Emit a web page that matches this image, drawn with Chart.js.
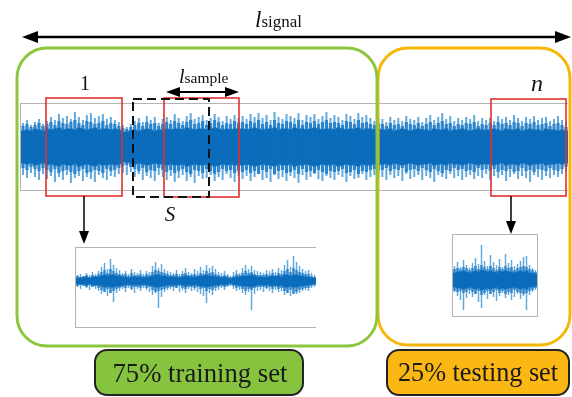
<!DOCTYPE html>
<html>
<head>
<meta charset="utf-8">
<script src="https://cdn.jsdelivr.net/npm/chart.js@4.4.1/dist/chart.umd.min.js"></script>
<style>
  html, body { margin: 0; padding: 0; background: #fff; }
  #stage { position: relative; width: 572px; height: 397px; overflow: hidden; background: #fff; }
  .panel { position: absolute; box-sizing: border-box; border-top: 1px solid #b4b4b4; border-bottom: 1px solid #b4b4b4; border-left: 1px solid #b4b4b4; }
  .panel canvas { display: block; }
  #ov { position: absolute; left: 0; top: 0; pointer-events: none; }
  .serif { font-family: "Liberation Serif", "Times New Roman", serif; }
</style>
</head>
<body>
<div id="stage">
  <div class="panel" style="left:20px; top:103px; width:548px; height:88px;">
    <canvas id="sigMain" width="547" height="86"></canvas>
  </div>
  <div class="panel" style="left:75px; top:247px; width:241px; height:81px;">
    <canvas id="sigTrain" width="240" height="79"></canvas>
  </div>
  <div class="panel" style="left:452px; top:234px; width:86px; height:83px; border-right:1px solid #b4b4b4;">
    <canvas id="sigTest" width="84" height="81"></canvas>
  </div>

  <svg id="ov" width="572" height="397" class="serif">
    <!-- l_signal -->
    <line x1="36" y1="37" x2="557" y2="37" stroke="#000" stroke-width="2.5"/>
    <polygon points="22,37 38,31 38,43" fill="#000"/>
    <polygon points="571,37 555,31 555,43" fill="#000"/>
    <text x="255" y="27" fill="#111"><tspan font-style="italic" font-size="23">l</tspan><tspan font-size="17">signal</tspan></text>

    <!-- train / test groups -->
    <rect x="378" y="48" width="192" height="297" rx="30" ry="30" fill="none" stroke="#f6b70a" stroke-width="3"/>
    <rect x="17" y="48" width="360" height="298" rx="30" ry="30" fill="none" stroke="#8cc63f" stroke-width="3"/>

    <!-- sample windows -->
    <rect x="46" y="98" width="76" height="98" fill="none" stroke="#e0302e" stroke-width="1.6"/>
    <rect x="164" y="98" width="75" height="99" fill="none" stroke="#e0302e" stroke-width="1.6"/>
    <rect x="491" y="99" width="75" height="97" fill="none" stroke="#e0302e" stroke-width="1.6"/>
    <rect x="133" y="99" width="76" height="98" fill="none" stroke="#111" stroke-width="2" stroke-dasharray="9 5"/>

    <text x="85" y="90" font-size="20" text-anchor="middle" fill="#111">1</text>
    <text x="537" y="91" font-size="24" font-style="italic" text-anchor="middle" fill="#111">n</text>

    <!-- l_sample -->
    <line x1="176" y1="92" x2="229" y2="92" stroke="#000" stroke-width="2"/>
    <polygon points="166,92 180,87 180,97" fill="#000"/>
    <polygon points="239,92 225,87 225,97" fill="#000"/>
    <text x="179" y="83" fill="#111"><tspan font-style="italic" font-size="20">l</tspan><tspan font-size="15.5">sample</tspan></text>
    <text x="170" y="221" font-size="21" font-style="italic" text-anchor="middle" fill="#111">S</text>

    <!-- zoom arrows -->
    <line x1="84" y1="196" x2="84" y2="233" stroke="#000" stroke-width="1.5"/>
    <polygon points="84,244 79,231 89,231" fill="#000"/>
    <line x1="511" y1="196" x2="511" y2="223" stroke="#000" stroke-width="1.5"/>
    <polygon points="511,234 506,221 516,221" fill="#000"/>

    <!-- set labels -->
    <rect x="95" y="350" width="208" height="45" rx="12" ry="12" fill="#86c440" stroke="#222" stroke-width="2"/>
    <text x="200" y="382" font-size="28" text-anchor="middle" fill="#1a1a1a" textLength="175" lengthAdjust="spacingAndGlyphs">75% training set</text>
    <rect x="387" y="350" width="182" height="45" rx="12" ry="12" fill="#fbb714" stroke="#222" stroke-width="2"/>
    <text x="478" y="381" font-size="28" text-anchor="middle" fill="#1a1a1a" textLength="160" lengthAdjust="spacingAndGlyphs">25% testing set</text>
  </svg>
</div>

<script>
// ── Señal completa (envolvente por tramo) ─────────────────────────────────────
var mainUp = [24,27,22,25,28,23,
  26,30,27,33,29,31,28,35,30,27,32,34,29,31,33,28,30,27,25,
  22,20,23,
  26,29,25,31,27,30,24,28,
  30,27,33,29,26,31,34,28,30,32,27,29,33,30,26,31,28,32,29,
  31,28,33,30,34,29,32,27,35,30,28,33,31,29,34,27,32,30,33,28,31,35,29,32,30,27,33,31,28,34,30,32,29,26,30,
  28,25,30,27,29,26,31,28,27,30,25,29,32,27,30,34,28,31,26,29,27,30,28,32,26,29,27,
  29,26,31,28,30,27,32,29,26,30,28,31,27,29,30,26,28,31,27,25];
var mainDown = [28,31,26,30,33,27,
  32,29,35,30,33,28,36,31,29,34,30,32,35,28,31,33,29,30,27,
  26,28,25,
  30,27,33,29,31,34,28,30,
  33,29,35,31,28,34,30,36,29,32,31,28,34,30,33,27,31,35,29,
  32,29,34,30,27,33,31,35,28,32,30,34,29,31,36,28,33,30,27,32,34,29,31,33,28,30,35,29,32,31,27,33,30,28,31,
  30,33,28,31,29,34,27,32,30,28,33,29,31,35,28,30,32,27,31,29,33,30,28,32,29,31,27,
  33,29,31,28,34,30,27,32,29,31,35,28,30,33,29,31,28,30,27,25];
var mainFringe = [21,23,20,22,24,21,
  23,25,22,26,24,23,25,27,24,22,26,25,23,24,26,22,24,23,21,
  19,18,20,
  22,24,21,25,23,24,21,23,
  25,23,26,24,22,25,27,23,24,26,22,24,27,25,22,24,23,26,24,
  25,23,26,24,27,23,25,22,27,24,23,26,25,23,27,22,25,24,26,23,25,27,24,25,24,22,26,25,23,27,24,25,23,22,24,
  23,21,24,22,23,21,25,23,22,24,21,23,25,22,24,26,23,24,21,23,22,24,23,25,21,23,22,
  24,22,25,23,24,22,25,24,21,24,23,25,22,23,24,21,23,24,22,20];
var mainCore = [16,17,16,18,17,16,
  18,17,18,19,17,18,18,17,19,18,17,18,19,17,18,18,17,18,17,
  15,15,16,
  17,16,17,18,17,16,17,17,
  18,17,18,18,17,19,18,17,18,18,17,18,19,18,17,18,17,18,18,
  18,17,18,19,18,17,18,18,19,17,18,18,17,19,18,18,17,18,19,18,17,18,18,17,19,18,17,18,18,19,17,18,18,17,18,
  17,17,18,16,17,18,17,16,17,18,17,17,16,18,17,17,18,16,17,17,18,17,16,17,18,17,17,
  17,18,17,16,18,17,17,18,16,17,18,17,17,16,18,17,17,16,17,16];

// ── Muestra de entrenamiento ──────────────────────────────────────────────────
var trainUp = [6,7,5,8,6,9,7,10,
  14,18,12,22,16,13,11,
  8,10,7,12,9,8,11,7,10,9,
  15,19,13,17,12,10,
  9,8,11,7,10,13,9,8,12,10,
  14,11,16,13,15,12,9,
  8,10,7,5,9,11,8,
  13,16,12,15,11,10,
  9,8,11,10,12,9,13,11,
  16,21,14,25,19,15,12,
  10,11,8,6];
var trainDown = [6,8,5,7,9,6,8,10,
  13,11,15,12,21,12,10,
  8,11,7,9,12,8,10,7,9,11,
  14,12,27,16,11,9,
  8,10,7,11,9,12,8,10,9,11,
  13,15,22,12,14,10,9,
  7,9,6,5,8,10,9,
  12,14,11,29,13,10,
  9,11,8,10,12,9,11,10,
  14,12,15,11,13,12,10,
  9,10,7,6];
var trainFringe = [5,4,5,6,4,6,5,7,
  9,11,8,12,10,8,7,
  6,7,5,8,6,6,7,5,7,6,
  9,11,10,9,8,7,
  6,6,7,5,7,8,6,6,7,6,
  8,7,10,8,9,7,6,
  5,6,5,4,5,7,6,
  8,10,8,9,7,6,
  6,6,7,6,8,6,8,7,
  10,12,9,13,11,9,8,
  7,7,5,4];
var trainCore = [3,3,3,4,3,4,4,4,
  5,6,5,6,6,5,5,
  4,4,3,4,4,4,4,3,4,4,
  5,6,6,5,5,4,
  4,4,4,3,4,5,4,4,4,4,
  5,5,6,5,5,4,4,
  3,4,3,2,3,4,4,
  5,5,5,6,5,4,
  4,4,4,4,5,4,5,4,
  6,6,5,6,6,5,5,
  4,4,3,3];

// ── Muestra de prueba ─────────────────────────────────────────────────────────
var testUp     = [14,18,13,20,15,12,17,22,16,35,19,14,25,18,15,21,13,26,17,20,14,16,19,23,24,15,12,10];
var testDown   = [12,16,20,30,18,14,17,13,22,28,15,19,14,17,21,16,13,18,15,20,17,14,19,16,30,15,12,10];
var testFringe = [11,12,11,13,12,10,12,14,11,15,13,11,14,12,10,13,11,14,12,13,10,12,13,14,13,11,10,8];
var testCore   = [7,8,8,9,8,7,8,9,8,10,9,8,9,8,7,9,8,9,8,8,7,8,9,8,9,7,7,6];

var COL_CORE   = '#0a6cbb';
var COL_FRINGE = '#2e85cb';
var COL_SPIKE  = '#62a9dd';

function capa(valores, color, ancho, orden, abajo) {
    return {
        data: valores.map(function (v, i) { return [-(abajo ? abajo[i] : v), v]; }),
        backgroundColor: color,
        barPercentage: ancho,
        categoryPercentage: 1,
        grouped: false,
        order: orden
    };
}

function dibujarSenal(id, up, down, fringe, core, yMin, yMax) {
    new Chart(document.getElementById(id).getContext('2d'), {
        type: 'bar',
        data: {
            labels: up.map(function (v, i) { return i; }),
            datasets: [
                capa(up, COL_SPIKE, 0.5, 3, down),
                capa(fringe, COL_FRINGE, 0.8, 2),
                capa(core, COL_CORE, 1, 1)
            ]
        },
        options: {
            responsive: false,
            animation: false,
            events: [],
            layout: { padding: 0 },
            plugins: { legend: { display: false }, tooltip: { enabled: false } },
            scales: {
                x: { display: false },
                y: { display: false, min: yMin, max: yMax }
            }
        }
    });
}

dibujarSenal('sigMain',  mainUp,  mainDown,  mainFringe,  mainCore,  -43, 43);
dibujarSenal('sigTrain', trainUp, trainDown, trainFringe, trainCore, -46, 33);
dibujarSenal('sigTest',  testUp,  testDown,  testFringe,  testCore,  -36, 45);
</script>
</body>
</html>
